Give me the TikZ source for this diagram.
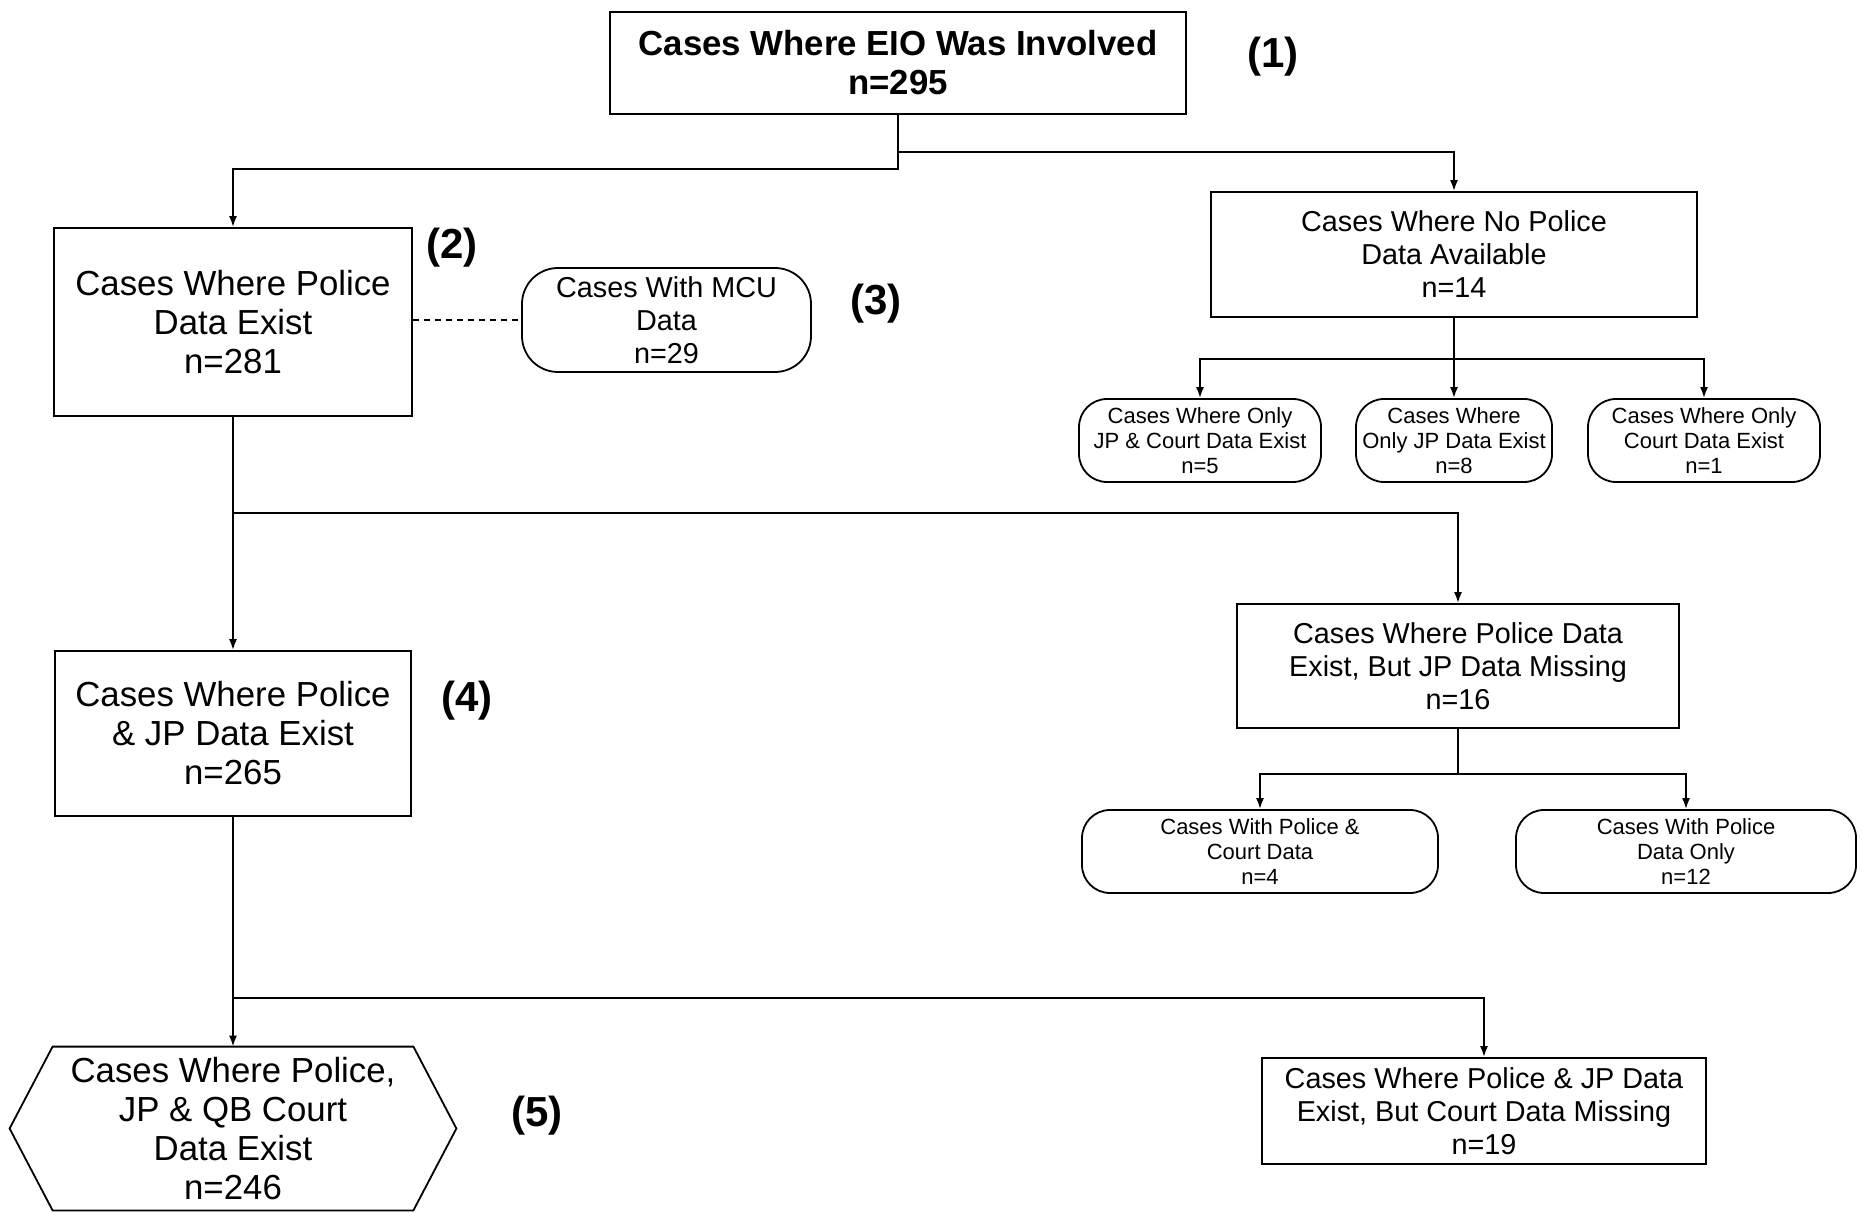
\documentclass[tikz,border=0pt]{standalone}
\usepackage{fontspec}
\setmainfont{Liberation Sans}
\usetikzlibrary{arrows.meta}
\begin{document}
\begin{tikzpicture}[x=0.5pt,y=-0.5pt,
  every node/.style={inner sep=0pt, align=center},
  lg/.style={font=\fontsize{17.4}{19.5}\selectfont},
  md/.style={font=\fontsize{14.4}{16.5}\selectfont},
  sm/.style={font=\fontsize{11}{12.5}\selectfont},
  rectbox/.style={draw, line width=0.9pt},
  pill/.style={draw, line width=0.9pt, rounded corners=#1},
  tag/.style={font=\fontsize{21}{24}\selectfont\bfseries},
  conn/.style={line width=0.9pt},
  arr/.style={conn, -{Latex[length=5.5pt,width=4pt]}},
]
\useasboundingbox (0,0) rectangle (1862,1213);

% main column
\node[rectbox, minimum width=288pt, minimum height=51pt,
      font=\fontsize{17.4}{19.5}\selectfont\bfseries] (top) at (898,63)
  {Cases Where EIO Was Involved\\n=295};
\node[rectbox, lg, minimum width=179pt, minimum height=94pt] (n2) at (233,322)
  {Cases Where Police\\Data Exist\\n=281};
\node[pill=18pt, md, minimum width=144.5pt, minimum height=52pt] (mcu) at (666.5,320)
  {Cases With MCU\\Data\\n=29};
\node[rectbox, lg, minimum width=178pt, minimum height=82.5pt] (n4) at (233,733.5)
  {Cases Where Police\\\& JP Data Exist\\n=265};
\node[lg, minimum width=180pt, minimum height=81.5pt] (hex) at (233,1128.5)
  {Cases Where Police,\\JP \& QB Court\\Data Exist\\n=246};
\draw[line width=0.9pt] (hex.north west) -- (hex.north east) -- ([xshift=21.5pt]hex.east)
  -- (hex.south east) -- (hex.south west) -- ([xshift=-21.5pt]hex.west) -- cycle;

% right column
\node[rectbox, md, minimum width=243pt, minimum height=62.5pt] (np) at (1454,254.5)
  {Cases Where No Police\\Data Available\\n=14};
\node[pill=14pt, sm, minimum width=121pt, minimum height=41.5pt] (A) at (1200,440.5)
  {Cases Where Only\\JP \& Court Data Exist\\n=5};
\node[pill=14pt, sm, minimum width=98pt, minimum height=41.5pt] (B) at (1454,440.5)
  {Cases Where\\Only JP Data Exist\\n=8};
\node[pill=14pt, sm, minimum width=116pt, minimum height=41.5pt] (C) at (1704,440.5)
  {Cases Where Only\\Court Data Exist\\n=1};
\node[rectbox, md, minimum width=221pt, minimum height=62pt] (jpm) at (1458,666)
  {Cases Where Police Data\\Exist, But JP Data Missing\\n=16};
\node[pill=14pt, sm, minimum width=178pt, minimum height=41.5pt] (D) at (1260,851.5)
  {Cases With Police \&\\Court Data\\n=4};
\node[pill=14pt, sm, minimum width=170pt, minimum height=41.5pt] (E) at (1686,851.5)
  {Cases With Police\\Data Only\\n=12};
\node[rectbox, md, minimum width=222pt, minimum height=53pt] (cm) at (1484,1111)
  {Cases Where Police \& JP Data\\Exist, But Court Data Missing\\n=19};

% step labels
\node[tag] (t1) at (1273,57) {(1)};
\node[tag] (t2) at (452,248) {(2)};
\node[tag] (t3) at (876,304) {(3)};
\node[tag] (t4) at (467,701) {(4)};
\node[tag] (t5) at (537,1116) {(5)};

% connectors
\draw[arr] (top.south) |- (n2.north |- 0,169) -- (n2.north);
\draw[arr] (top.south |- 0,152) -| (np.north);
\draw[conn, dash pattern=on 3pt off 2.5pt] (n2.east |- mcu.west) -- (mcu.west);

\draw[arr] (np.south) -- (B.north);
\draw[arr] (np.south |- 0,359) -| (A.north);
\draw[arr] (np.south |- 0,359) -| (C.north);

\draw[arr] (n2.south) -- (n4.north);
\draw[arr] (n2.south |- 0,513) -| (jpm.north);

\draw[conn] (jpm.south) -- (jpm.south |- 0,774);
\draw[arr] (jpm.south |- 0,774) -| (D.north);
\draw[arr] (jpm.south |- 0,774) -| (E.north);

\draw[arr] (n4.south) -- (hex.north);
\draw[arr] (n4.south |- 0,998) -| (cm.north);
\end{tikzpicture}
\end{document}
